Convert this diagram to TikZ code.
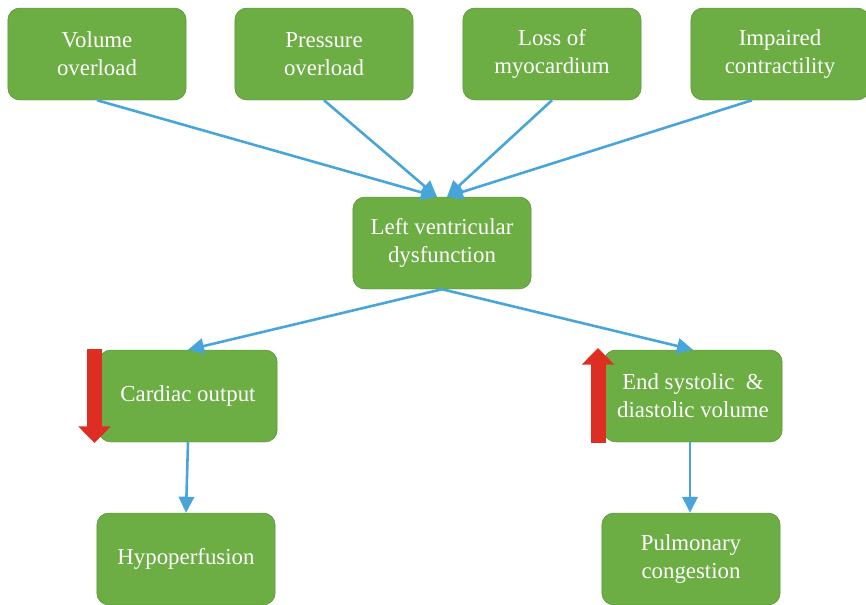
\documentclass[tikz,border=0pt]{standalone}
\usepackage{fontspec}
\setmainfont{Liberation Serif}
\usetikzlibrary{arrows.meta,calc,positioning}
\definecolor{boxgreen}{RGB}{108,173,68}
\definecolor{boxedge}{RGB}{84,140,52}
\definecolor{linkblue}{RGB}{72,165,220}
\definecolor{markred}{RGB}{222,46,36}
\begin{document}
\begin{tikzpicture}[x=0.03cm,y=-0.03cm,>=Stealth,
  box/.style={draw=boxedge,fill=boxgreen,rounded corners=0.36cm,
    minimum width=5.35cm,minimum height=2.76cm,align=center,text=white,
    font=\fontsize{19.5}{24}\selectfont},
  link/.style={->,draw=linkblue,line width=2.2pt,
    -{Triangle[length=0.48cm,width=0.46cm]}},
  trend/.style={draw=markred,line width=0.45cm,
    -{Triangle[length=0.5cm,width=0.95cm]}}]
  \useasboundingbox (0,0) rectangle (866,604);
  % causes
  \node[box] (vol) at (97,54) {Volume\\overload};
  \node[box] (pres) at (324,54) {Pressure\\overload};
  \node[box] (loss) at (552,54) {Loss of\\myocardium};
  \node[box] (imp) at (780,54) {Impaired\\contractility};
  % centre
  \node[box] (lv) at (442,243) {Left ventricular\\dysfunction};
  % effects
  \node[box] (co) at (188,396) {Cardiac output};
  \node[box] (esv) at (693,396) {End systolic~~\&\\diastolic volume};
  \node[box] (hypo) at (186,559) {Hypoperfusion};
  \node[box] (pulm) at (691,559) {Pulmonary\\congestion};
  % links
  \draw[link] (vol.south) -- ($(lv.north)+(-5,0)$);
  \draw[link] (pres.south) -- ($(lv.north)+(-5,0)$);
  \draw[link] (loss.south) -- ($(lv.north)+(5,0)$);
  \draw[link] ($(imp.south)+(-28,0)$) -- ($(lv.north)+(5,0)$);
  \draw[link] (lv.south) -- (co.north);
  \draw[link] (lv.south) -- (esv.north);
  \draw[link] (co.south) -- (hypo.north);
  \draw[link] ($(esv.south)+(-3,0)$) -- ($(pulm.north)+(-1,0)$);
  % up and down marks
  \coordinate (dtop) at (94.5,349);
  \coordinate (dbot) at (94.5,443);
  \coordinate (utop) at (598,348);
  \coordinate (ubot) at (598,443);
  \draw[trend] (dtop) -- (dbot);
  \draw[trend] (ubot) -- (utop);
\end{tikzpicture}
\end{document}
